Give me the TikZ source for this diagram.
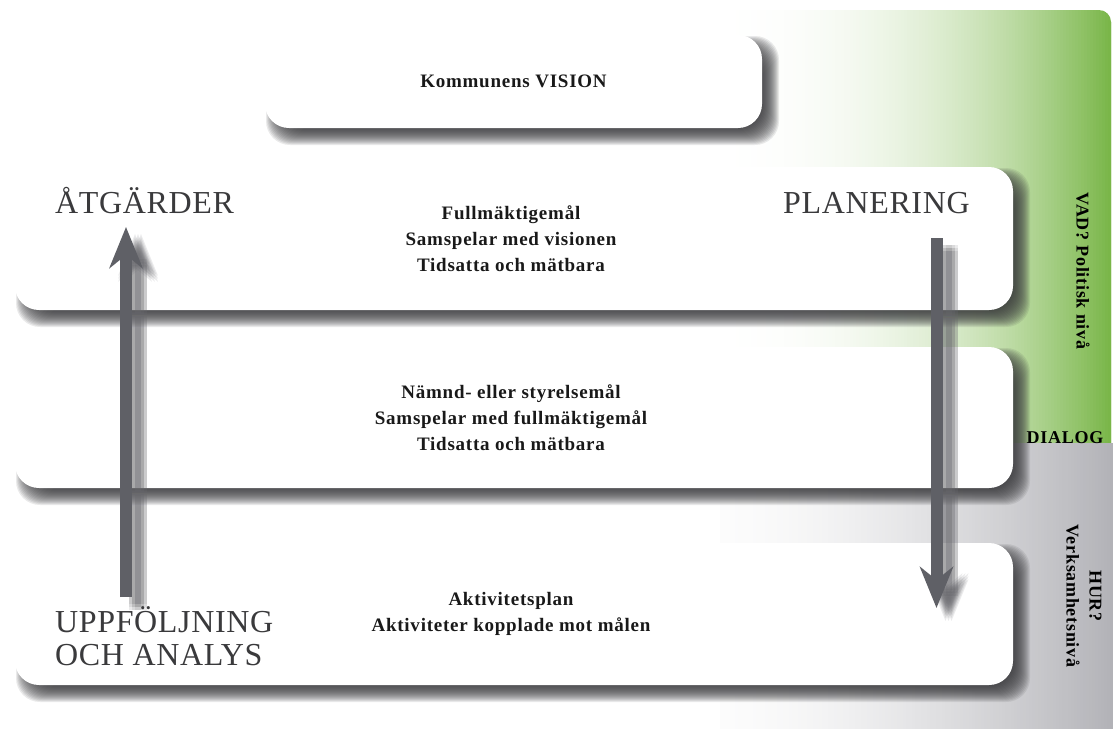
\documentclass[tikz,border=0pt]{standalone}
\usepackage{fontspec}
\setmainfont{Liberation Serif}
\newfontfamily\boldlbl{Liberation Serif}[LetterSpace=4]
\newfontfamily\biglbl{Liberation Serif}[LetterSpace=2]
\usetikzlibrary{arrows.meta,calc}
\definecolor{pgreen}{RGB}{118,180,68}
\definecolor{pgrey}{RGB}{178,178,183}
\definecolor{shadowc}{RGB}{55,55,58}
\definecolor{arrc}{RGB}{95,96,102}
\definecolor{arrsh}{RGB}{105,105,110}
\definecolor{lblc}{RGB}{58,58,60}
\definecolor{txt}{RGB}{25,25,25}
\newcommand{\boxshadow}[4]{%
  \foreach \g in {-8,-7,...,8}{%
    \fill[shadowc, opacity=0.1, rounded corners=24pt]
      ({#1+9-(\g)},{#2+9-(\g)}) rectangle ({#3+9+(\g)},{#4+9+(\g)});
  }}
\begin{document}
\begin{tikzpicture}[x=1pt,y=-1pt,
  panelbox/.style={fill=white, rounded corners=24pt, inner sep=0pt, align=center,
    text=txt, font={\boldlbl\fontsize{19}{26}\selectfont\bfseries}},
  biglabel/.style={font={\biglbl\fontsize{32}{33}\selectfont}, text=lblc, inner sep=0pt},
  sidelabel/.style={font={\boldlbl\fontsize{18}{23}\selectfont\bfseries}, text=black,
    inner sep=0pt, align=center},
  bigarrow/.style={line width=12pt, draw=arrc, -{Stealth[length=41pt,width=33pt,inset=13pt]}},
  arrshadow/.style={line width=12pt, draw=arrsh, opacity=0.13,
    -{Stealth[length=41pt,width=33pt,inset=13pt]}}
]
\useasboundingbox (0,0) rectangle (1113,729);
\fill[white] (0,0) rectangle (1113,729);
% green panel
\begin{scope}
  \clip[rounded corners=12pt] (700,10) rectangle (1111,460);
  \foreach \i in {0,...,137}{%
    \pgfmathsetmacro\p{100*((\i+0.5)/138)^2.5}
    \fill[pgreen!\p!white] ({700+3*\i},10) rectangle ({703.6+3*\i},460);
  }
\end{scope}
% grey panel
\foreach \i in {0,...,130}{%
  \pgfmathsetmacro\p{4+96*((\i+0.5)/131)^1.6}
  \fill[pgrey!\p!white] ({720+3*\i},443) rectangle ({723.6+3*\i},729);
}
% box shadows
\boxshadow{265}{35}{762}{128}
\boxshadow{15}{167}{1013}{310}
\boxshadow{15}{347}{1013}{488}
\boxshadow{15}{543}{1013}{685}
% boxes
\node[panelbox, minimum width=497pt, minimum height=93pt] (vision) at (513.5,81.5) {Kommunens VISION};
\node[panelbox, minimum width=998pt, minimum height=143pt] (fm) at (514,238.5)
  {\hspace*{-6pt}Fullmäktigemål\\\hspace*{-6pt}Samspelar med visionen\\\hspace*{-6pt}Tidsatta och mätbara};
\node[panelbox, minimum width=998pt, minimum height=141pt] (nm) at (514,417.5)
  {\hspace*{-6pt}Nämnd- eller styrelsemål\\\hspace*{-6pt}Samspelar med fullmäktigemål\\\hspace*{-6pt}Tidsatta och mätbara};
\node[panelbox, minimum width=998pt, minimum height=142pt] (ak) at (514,614)
  {\hspace*{-6pt}Aktivitetsplan\\\hspace*{-6pt}Aktiviteter kopplade mot målen};
% arrows
\coordinate (lstart) at (126,597);
\coordinate (lend) at (126,227);
\coordinate (rstart) at (936.5,238);
\coordinate (rend) at (936.5,608);
\foreach \dx in {9,12,15}{%
  \foreach \dy in {7,10,13}{%
    \draw[arrshadow] ($(lstart)+(\dx,\dy)$) -- ($(lend)+(\dx,\dy)$);
    \draw[arrshadow] ($(rstart)+(\dx,\dy)$) -- ($(rend)+(\dx,\dy)$);
  }}
\draw[bigarrow] (lstart) -- (lend);
\draw[bigarrow] (rstart) -- (rend);
% labels
\node[biglabel, anchor=base west] (atg) at (55,213) {ÅTGÄRDER};
\node[biglabel, anchor=base west] (plan) at (783,213) {PLANERING};
\node[biglabel, anchor=base west, align=left] (upp) at (55,665) {UPPFÖLJNING\\OCH ANALYS};
\node[sidelabel, rotate=-90] (vad) at (1083,271) {VAD? Politisk nivå};
\node[sidelabel, anchor=base] (dialog) at (1065,443) {DIALOG};
\node[sidelabel, rotate=-90] (hur) at (1084,596) {HUR?\\Verksamhetsnivå};
\end{tikzpicture}
\end{document}
